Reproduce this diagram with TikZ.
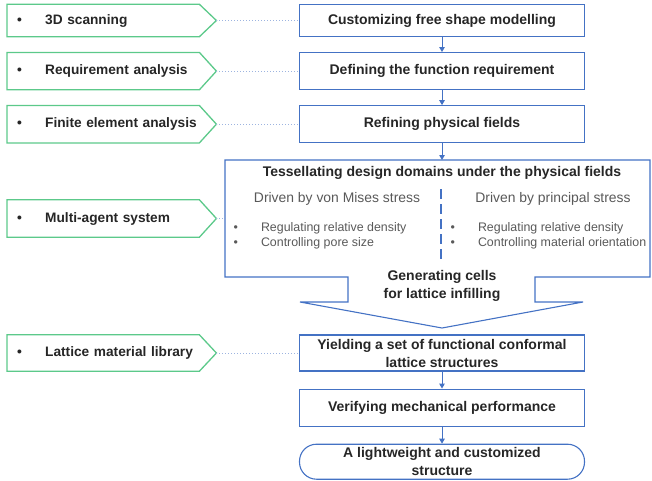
\documentclass[tikz,border=0pt]{standalone}
\usepackage{fontspec}
\setmainfont{Liberation Sans}
\usetikzlibrary{positioning, arrows.meta}
\definecolor{boxblue}{HTML}{4472C4}
\definecolor{tagreen}{HTML}{5CC98A}
\definecolor{dotblue}{HTML}{9DB4E0}
\definecolor{softgray}{HTML}{595959}
\definecolor{ink}{HTML}{262626}
\newcommand{\tagitem}[1]{\mbox{\makebox[28pt][l]{\textbullet}#1}}
\newcommand{\listitem}[1]{\makebox[27.5pt][l]{\textbullet}#1}

\begin{document}
\begin{tikzpicture}[x=1pt, y=-1pt,
  font=\fontsize{14}{18}\selectfont,
  stage/.style={draw=boxblue, line width=1.1pt, minimum width=285pt, minimum height=37pt, inner sep=2pt, align=center, font=\fontsize{14}{18}\selectfont\bfseries, text=ink},
  tag/.style={anchor=west, text width=172pt, minimum height=37pt, inner xsep=10pt, inner ysep=0pt, align=left, font=\fontsize{13.7}{18}\selectfont\bfseries, text=ink},
  tagline/.style={draw=tagreen, line width=1.3pt},
  link/.style={dotblue, dotted, line width=1pt},
  flow/.style={boxblue, line width=1pt, -{Triangle[length=5pt, width=5.5pt]}},
  subhead/.style={text=softgray, font=\fontsize{13.9}{16}\selectfont},
  points/.style={anchor=west, text=softgray, align=left, font=\fontsize{12.4}{15}\selectfont},
  divider/.style={boxblue, line width=1.4pt, dash pattern=on 10pt off 5pt}
]
\useasboundingbox (0,0) rectangle (652,480);
\coordinate (leftedge) at (7,0);
% --- main chain, upper part ---
\node[stage, minimum height=32pt] (custom) at (442,20.5) {Customizing free shape modelling};
\node[stage, below=15pt of custom] (define) {Defining the function requirement};
\node[stage, below=15pt of define] (refine) {Refining physical fields};
% --- tessellation block with its down-pointing outlet ---
\draw[boxblue, line width=1.1pt] (225,160) coordinate (tesstop) -- (650,160) -- (650,277) -- (535,277) -- (535,302)
   -- (583,302) -- (442,328) coordinate (tesstip) -- (300,302) -- (348,302) -- (348,277) -- (225,277) -- cycle;
\node[font=\fontsize{14}{18}\selectfont\bfseries, text=ink] (tesstitle) at (442,173) {Tessellating design domains under the physical fields};
\node[subhead] (vonmises) at (337,199) {Driven by von Mises stress};
\node[subhead] (principal) at (553,199) {Driven by principal stress};
\coordinate (divtop) at (441,189);
\coordinate (divbot) at (441,260);
\draw[divider] (divtop) -- (divbot);
\node[points] (vmlist) at (230,235.5) {\listitem{Regulating relative density}\\\listitem{Controlling pore size}};
\node[points] (pslist) at (447,235.5) {\listitem{Regulating relative density}\\\listitem{Controlling material orientation}};
\node[font=\fontsize{14}{18}\selectfont\bfseries, text=ink, align=center] (cells) at (442,286) {Generating cells\\for lattice infilling};
% --- main chain, lower part ---
\node[stage, minimum height=36pt] (yield) at (442,353) {Yielding a set of functional conformal\\lattice structures};
\node[stage, below=17pt of yield] (verify) {Verifying mechanical performance};
\node[stage, minimum height=35pt, rounded corners=17pt, below=17pt of verify] (final) {A lightweight and customized\\structure};
\draw[flow] (custom) -- (define);
\draw[flow] (define) -- (refine);
\draw[flow] (refine) -- (refine.south |- tesstop);
\draw[flow] (yield) -- (verify);
\draw[flow] (verify) -- (final);
% --- side tags ---
\node[tag, minimum height=32pt] (t3d) at (custom -| leftedge) {\tagitem{3D scanning}};
\node[tag] (treq) at (define -| leftedge) {\tagitem{Requirement analysis}};
\node[tag] (tfem) at (refine -| leftedge) {\tagitem{Finite element analysis}};
\node[tag] (tmas) at (leftedge |- 0,218.5) {\tagitem{Multi-agent system}};
\node[tag, minimum height=36pt] (tlat) at (yield -| leftedge) {\tagitem{Lattice material library}};
\foreach \t in {t3d, treq, tfem, tmas, tlat}
  \draw[tagline] (\t.north west) -- (\t.north east) -- ([xshift=17pt]\t.east) -- (\t.south east) -- (\t.south west) -- cycle;
\draw[link] ([xshift=17pt]t3d.east) -- (custom.west);
\draw[link] ([xshift=17pt]treq.east) -- (define.west);
\draw[link] ([xshift=17pt]tfem.east) -- (refine.west);
\draw[link] ([xshift=17pt]tmas.east) -- (tmas.east -| tesstop);
\draw[link] ([xshift=17pt]tlat.east) -- (yield.west);
\end{tikzpicture}
\end{document}
